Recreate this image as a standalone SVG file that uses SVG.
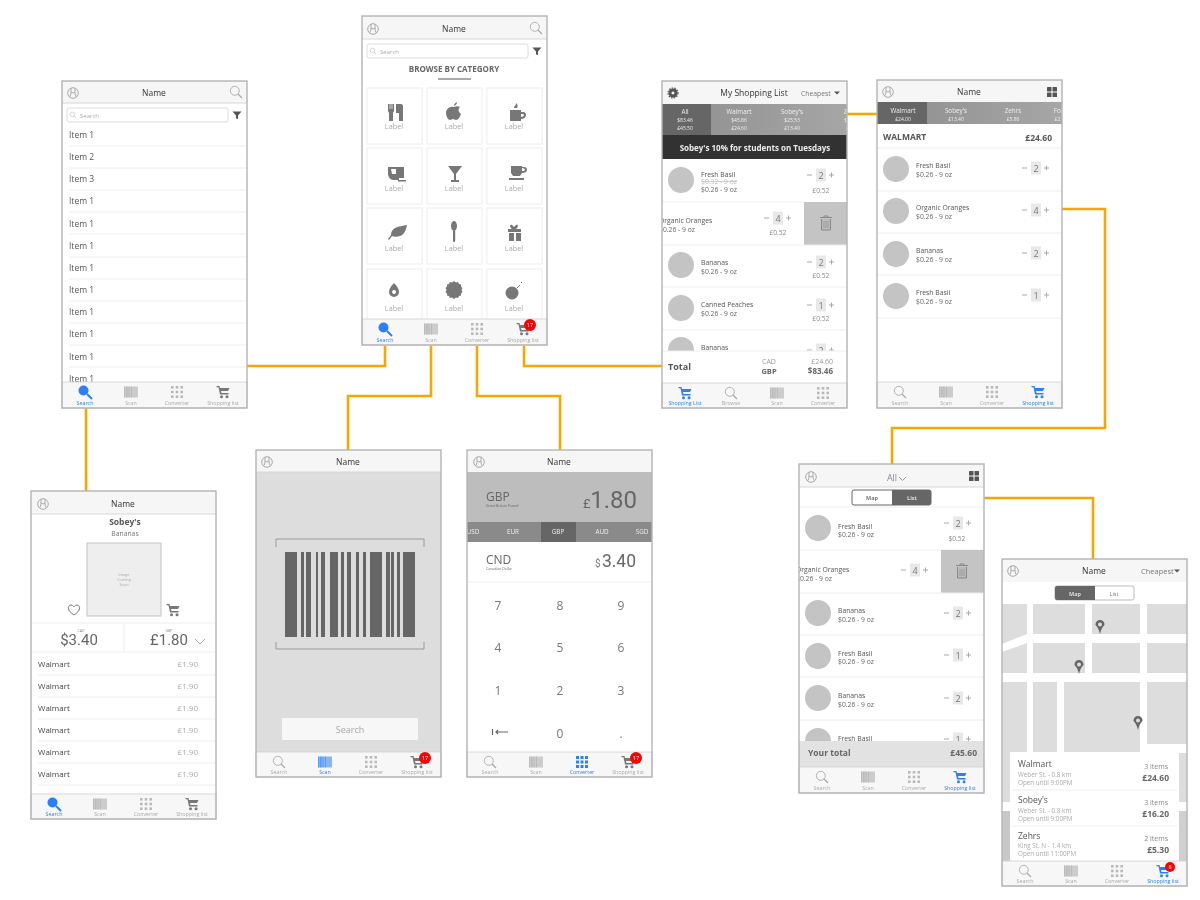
<svg xmlns="http://www.w3.org/2000/svg" width="1200" height="900" viewBox="0 0 1200 900">
<style>
text{font-family:"Open Sans","Liberation Sans",sans-serif;fill:#555}
.frame{fill:none;stroke:#b4b4b4;stroke-width:1.4}
.bg{fill:#fff}
.hd{fill:#f6f6f6}
.hl{stroke:#d8d8d8;stroke-width:1}
.sep{stroke:#eee;stroke-width:1}
.tab{fill:#f7f7f7;stroke:#d0d0d0;stroke-width:.8}
.ttl{font-size:8.500px;text-anchor:middle;fill:#333}
.tl{font-size:5.300px;text-anchor:middle;fill:#aaa}
.on{font-size:5.300px;text-anchor:middle;fill:#2a7fff}
.ic{color:#aaa}
.icb{color:#2a7fff}
.icd{color:#777}
.bd{fill:#f00}
.bt{font-size:5.500px;text-anchor:middle;fill:#fff}
.sb{fill:#fff;stroke:#ddd;stroke-width:1}
.st{font-size:6px;fill:#aaa}
.it{font-size:8.500px;fill:#555}
.cell{fill:#fff;stroke:#eee;stroke-width:1}
.lab{font-size:7.300px;text-anchor:middle;fill:#aaa}
.c{fill:#c4c4c4}
.nm{font-size:6.800px;fill:#555}
.pr{font-size:6.800px;fill:#666}
.qn{font-size:9px;text-anchor:middle;fill:#777}
.pc{font-size:6.600px;text-anchor:middle;fill:#888}
.stripw{font-size:6.300px;text-anchor:middle;fill:#eee}
.strips{font-size:5px;text-anchor:middle;fill:#eee}
.b{font-weight:700}
.r{text-anchor:end}
.m{text-anchor:middle}
.conn{fill:none;stroke:#f5a800;stroke-width:2.600}
.blk{fill:#ddd}
.bar{fill:#666}
.pad{font-size:12px;text-anchor:middle;fill:#777}
.wl{font-size:8px;fill:#444}
.wp{font-size:8px;fill:#aaa;text-anchor:end}
</style>
<defs>
<filter id="soft" filterUnits="userSpaceOnUse" x="0" y="0" width="1200" height="900"><feGaussianBlur stdDeviation="0.45"/></filter>
<clipPath id="cp"><rect width="185" height="329"/></clipPath>
<linearGradient id="strip" x1="0" x2="1" y1="0" y2="0"><stop offset="0" stop-color="#8e8e8e"/><stop offset="1" stop-color="#a6a6a6"/></linearGradient>
<g id="i-user" fill="none" stroke="#aaa" stroke-width="1"><circle r="5.300"/><path d="M-2 -5V0Q-2 2-3.500 4M2 -5V0Q2 2 3.500 4M-2-1Q0 1 2-1"/></g>
<g id="i-mag" fill="none" stroke="currentColor" stroke-width=".9"><circle cx="-1.200" cy="-1.200" r="4.500"/><path d="M2 2L6 6" stroke-width="1.200"/></g>
<g id="i-magon"><circle cx="-1.500" cy="-1.500" r="5" fill="#2a7fff"/><path d="M2 2L7 7" stroke="#2a7fff" stroke-width="2"/></g>
<g id="i-scan" fill="currentColor"><rect x="-7" y="-5.500" width="14" height="11" opacity=".55"/><path d="M-7-5.500h1v11h-1zM-5-5.500h1.500v11h-1.500zM-2.500-5.500h1v11h-1zM0-5.500h1v11h-1z" opacity=".5"/></g>
<g id="i-grid" fill="currentColor" opacity=".8"><rect x="-6" y="-6" width="2.600" height="2.600"/><rect x="-1.300" y="-6" width="2.600" height="2.600"/><rect x="3.400" y="-6" width="2.600" height="2.600"/><rect x="-6" y="-1.300" width="2.600" height="2.600"/><rect x="-1.300" y="-1.300" width="2.600" height="2.600"/><rect x="3.400" y="-1.300" width="2.600" height="2.600"/><rect x="-6" y="3.400" width="2.600" height="2.600"/><rect x="-1.300" y="3.400" width="2.600" height="2.600"/><rect x="3.400" y="3.400" width="2.600" height="2.600"/></g>
<g id="i-gridb" fill="#2a7fff"><rect x="-6" y="-6" width="3" height="3"/><rect x="-1.500" y="-6" width="3" height="3"/><rect x="3" y="-6" width="3" height="3"/><rect x="-6" y="-1.500" width="3" height="3"/><rect x="-1.500" y="-1.500" width="3" height="3"/><rect x="3" y="-1.500" width="3" height="3"/><rect x="-6" y="3" width="3" height="3"/><rect x="-1.500" y="3" width="3" height="3"/><rect x="3" y="3" width="3" height="3"/></g>
<g id="i-cart" fill="currentColor"><path d="M-6.500-6H-3.500L-3-4H6.500L5-1H-2L-1.500 1H5.500V2.500H-3L-4.500-4.700H-6.500Z"/><circle cx="-1.500" cy="4.700" r="1.500"/><circle cx="4" cy="4.700" r="1.500"/></g>
<g id="i-filter"><path d="M-4.500-3.500H4.500L1 .5V4L-1 3.500V.5Z" fill="#555"/></g>
<g id="i-apps" fill="#555"><rect x="-5" y="-5" width="4.500" height="4.500" rx=".6"/><rect x=".5" y="-5" width="4.500" height="4.500" rx=".6"/><rect x="-5" y=".5" width="4.500" height="4.500" rx=".6"/><rect x=".5" y=".5" width="4.500" height="4.500" rx=".6"/></g>
<g id="i-tri"><path d="M-3-1.500H3L0 1.500Z" fill="#555"/></g>
<g id="q"><path d="M-14 0H-9M8 0H13M10.500-2.500V2.500" stroke="#aaa" stroke-width="1"/><rect x="-5" y="-6.500" width="10" height="13" fill="#e8e8e8"/></g>
<g id="i-trash" fill="none" stroke="#888" stroke-width="1"><path d="M-6-5.500H6M-2-5.500V-7H2V-5.500"/><path d="M-4.500-4V7H4.500V-4" fill="#bbb"/><path d="M-2-2V5M0-2V5M2-2V5" stroke-width=".6"/></g>
<g id="i-pin"><path d="M0 7C-2-1-4.500-1-4.500-2.500A4.500 4.500 0 1 1 4.500-2.500C4.500-1 2-1 0 7Z" fill="#666"/><circle cy="-2.500" r="2" fill="#ddd"/></g>
</defs>
<rect width="1200" height="900" fill="#fff"/>
<g filter="url(#soft)">

<g id="connectors">
<path class="conn" d="M247 366H385V346"/>
<path class="conn" d="M431 346V396H348V450"/>
<path class="conn" d="M477 346V396H560V450"/>
<path class="conn" d="M524 346V366H662"/>
<path class="conn" d="M86 408V491"/>
<path class="conn" d="M847 114H877"/>
<path class="conn" d="M1062 209H1105V428H892V464"/>
<path class="conn" d="M984 498H1093V559"/>
</g>

<g id="screen-item-list" transform="translate(62,81)">
<rect class="bg" width="185" height="327"/>
<rect class="hd" width="185" height="22"/><path class="hl" d="M0 22H185"/>
<use href="#i-user" x="11" y="12"/><use href="#i-mag" class="ic" x="174" y="11"/>
<text class="ttl" x="92" y="15">Name</text>
<rect class="sb" x="5" y="27" width="161" height="14" rx="2"/>
<use href="#i-mag" class="ic" transform="translate(11,34) scale(.5)"/><text class="st" x="18" y="36.500">Search</text>
<use href="#i-filter" x="175" y="34"/>
<text class="it" x="7" y="57">Item 1</text><path class="sep" d="M7 65H185"/>
<text class="it" x="7" y="79">Item 2</text><path class="sep" d="M7 87H185"/>
<text class="it" x="7" y="101">Item 3</text><path class="sep" d="M7 109H185"/>
<text class="it" x="7" y="123">Item 1</text><path class="sep" d="M7 131H185"/>
<text class="it" x="7" y="146">Item 1</text><path class="sep" d="M7 153H185"/>
<text class="it" x="7" y="168">Item 1</text><path class="sep" d="M7 176H185"/>
<text class="it" x="7" y="190">Item 1</text><path class="sep" d="M7 198H185"/>
<text class="it" x="7" y="212">Item 1</text><path class="sep" d="M7 220H185"/>
<text class="it" x="7" y="234">Item 1</text><path class="sep" d="M7 242H185"/>
<text class="it" x="7" y="256">Item 1</text><path class="sep" d="M7 264H185"/>
<text class="it" x="7" y="279">Item 1</text><path class="sep" d="M7 286H185"/>
<text class="it" x="7" y="301">Item 1</text>
<rect class="tab" y="301" width="185" height="26"/>
<use href="#i-magon" x="23" y="311"/><text class="on" x="23" y="324">Search</text>
<use href="#i-scan" class="ic" x="69" y="311"/><text class="tl" x="69" y="324">Scan</text>
<use href="#i-grid" class="ic" x="115" y="311"/><text class="tl" x="115" y="324">Converter</text>
<use href="#i-cart" class="icd" x="161" y="311"/><text class="tl" x="161" y="324">Shopping list</text>
<rect class="frame" width="185" height="327"/>
</g>

<g id="screen-browse-category" transform="translate(362,16)">
<rect class="bg" width="185" height="329"/>
<rect class="hd" width="185" height="23"/><path class="hl" d="M0 23H185"/>
<use href="#i-user" x="11" y="13"/><use href="#i-mag" class="ic" x="174" y="12"/>
<text class="ttl" x="92" y="16">Name</text>
<rect class="sb" x="5" y="28" width="161" height="14" rx="2"/>
<use href="#i-mag" class="ic" transform="translate(11,35) scale(.5)"/><text class="st" x="18" y="37.500">Search</text>
<use href="#i-filter" x="175" y="35"/>
<text class="m b" x="92" y="56" font-size="8" style="fill:#666">BROWSE BY CATEGORY</text>
<rect x="76" y="62" width="33" height="2" fill="#aaa"/>
<rect class="cell" x="5" y="72" width="55" height="56"/><rect class="cell" x="65" y="72" width="55" height="56"/><rect class="cell" x="125" y="72" width="55" height="56"/>
<rect class="cell" x="5" y="132" width="55" height="56"/><rect class="cell" x="65" y="132" width="55" height="56"/><rect class="cell" x="125" y="132" width="55" height="56"/>
<rect class="cell" x="5" y="192" width="55" height="56"/><rect class="cell" x="65" y="192" width="55" height="56"/><rect class="cell" x="125" y="192" width="55" height="56"/>
<rect class="cell" x="5" y="253" width="55" height="56"/><rect class="cell" x="65" y="253" width="55" height="56"/><rect class="cell" x="125" y="253" width="55" height="56"/>
<g fill="#777">
<path d="M26 88h6v7l-1 2v8h-4v-8l-1-2zM34 88h5c1 0 2 1 2 2v15h-4v-8h-3z"/><path d="M28 88v5M30 88v5" stroke="#fff" stroke-width=".7"/>
<path d="M92 91c2-1 4-1 6 0-2 2-2 5 1 7-1 3-3 6-5 6-1 0-2-1-3-1s-2 1-3 1c-2 0-4-4-4-7 0-4 4-7 8-6zM92 90c0-2 1-3 3-4 0 2-1 3-3 4z"/>
<path d="M148 94h11v2h2c2 0 3 1 3 3s-2 4-5 4v2h-11zM159 98v3c1 0 3-1 3-2s-1-1-3-1zM152 92c0-2 2-2 2-5 2 2 2 3 1 5z"/>
<path d="M26 151h16v11h-5v2h-6c-3 0-5-4-5-6zM29 153l1 5h4v-5z" fill-rule="evenodd"/><rect x="36" y="164" width="8" height="1.500"/>
<path d="M86 150h14l-6 8v6h3v2h-8v-2h3v-6z"/>
<path d="M149 150h11v1h2c2 0 3 1 3 3s-2 3-5 3l-2 3h-7l-2-3zM160 152v3c1 0 3 0 3-1s-1-2-3-2z" fill-rule="evenodd"/><rect x="147" y="162" width="15" height="2"/>
<path d="M33 212c4-2 8-2 12-3-1 5-3 10-7 11-3 1-6 1-8 0l-3 4-1-1 3-4c0-3 1-5 4-7z"/>
<ellipse cx="92" cy="210" rx="3" ry="5"/><rect x="91" y="214" width="2.200" height="12" rx="1"/>
<path d="M146 213h4c-3-2-2-5 0-4l2 2 2-2c2-1 3 2 0 4h5v3h-13zM147 217h5v8h-5zM154 217h5v8h-5z"/>
<g transform="translate(0,-13)">
<path d="M32 280c3 3 5 6 5 9a5 5 0 0 1-10 0c0-3 2-6 5-9zM32 287a2 2 0 1 0 .1 0z" fill-rule="evenodd"/>
<path d="M92 278l2 1.500 2-.5 1 2 2 .5v2l1.500 1.500-1 2 1 2-1.500 1.500v2l-2 .5-1 2-2-.5-2 1.500-2-1.500-2 .5-1-2-2-.5v-2l-1.500-1.500 1-2-1-2 1.500-1.500v-2l2-.5 1-2 2 .5z"/>
<circle cx="150" cy="290" r="6.500"/><path d="M155 285l3-3M159 280l1-1" stroke="#777"/>
</g>
</g>
<text class="lab" x="32" y="113">Label</text><text class="lab" x="92" y="113">Label</text><text class="lab" x="152" y="113">Label</text>
<text class="lab" x="32" y="175">Label</text><text class="lab" x="92" y="175">Label</text><text class="lab" x="152" y="175">Label</text>
<text class="lab" x="32" y="235">Label</text><text class="lab" x="92" y="235">Label</text><text class="lab" x="152" y="235">Label</text>
<text class="lab" x="32" y="295">Label</text><text class="lab" x="92" y="295">Label</text><text class="lab" x="152" y="295">Label</text>
<rect class="tab" y="303" width="185" height="26"/>
<use href="#i-magon" x="23" y="313"/><text class="on" x="23" y="326">Search</text>
<use href="#i-scan" class="ic" x="69" y="313"/><text class="tl" x="69" y="326">Scan</text>
<use href="#i-grid" class="ic" x="115" y="313"/><text class="tl" x="115" y="326">Converter</text>
<use href="#i-cart" class="icd" x="161" y="313"/><text class="tl" x="161" y="326">Shopping list</text>
<circle class="bd" cx="168" cy="309" r="6"/><text class="bt" x="168" y="311">17</text>
<rect class="frame" width="185" height="329"/>
</g>

<g id="screen-shopping-list" transform="translate(662,81)">
<rect class="bg" width="185" height="327"/>
<g clip-path="url(#cp)">
<rect class="hd" width="185" height="23"/>
<path d="M11 7.500a4.500 4.500 0 1 0 .1 0zM11 10.500a1.500 1.500 0 1 1-.1 0z" fill="#555" fill-rule="evenodd"/><circle cx="11" cy="12" r="5" fill="none" stroke="#555" stroke-width="1.200" stroke-dasharray="1.500 1.200"/>
<text class="ttl" x="92" y="15">My Shopping List</text>
<text x="139" y="15" font-size="6.800" style="fill:#777">Cheapest</text><use href="#i-tri" x="175" y="12"/>
<rect y="23" width="185" height="31" fill="url(#strip)"/><rect y="23" width="49" height="31" fill="#666"/>
<text class="stripw" x="23" y="33">All</text><text class="strips" x="23" y="41">$83.46</text><text class="strips" x="23" y="49">£45.50</text>
<text class="stripw" x="77" y="33">Walmart</text><text class="strips" x="77" y="41">$45.86</text><text class="strips" x="77" y="49">£24.60</text>
<text class="stripw" x="130" y="33">Sobey's</text><text class="strips" x="130" y="41">$25.53</text><text class="strips" x="130" y="49">£13.40</text>
<text class="stripw" x="190" y="33">Zehrs</text><text class="strips" x="190" y="41">$12.07</text><text class="strips" x="190" y="49">£5.30</text>
<rect y="54" width="185" height="24" fill="#333"/>
<text class="m b" x="93" y="70" font-size="8" style="fill:#eee">Sobey's 10% for students on Tuesdays</text>

<circle class="c" cx="19" cy="99" r="13"/>
<text class="nm" x="39" y="96">Fresh Basil</text>
<text class="pr" x="39" y="103" style="fill:#bbb" text-decoration="line-through">$0.32 - 9 oz</text>
<text class="pr" x="39" y="111">$0.26 - 9 oz</text>
<g transform="translate(159,94)"><use href="#q"/><text class="qn" y="3.500">2</text></g>
<text class="pc" x="159" y="112">£0.52</text>
<path class="sep" d="M0 121H142"/>

<text class="nm" x="-3" y="142">Organic Oranges</text>
<text class="pr" x="-3" y="151">$0.26 - 9 oz</text>
<g transform="translate(116,137)"><use href="#q"/><text class="qn" y="3.500">4</text></g>
<text class="pc" x="116" y="154">£0.52</text>
<rect x="142" y="121" width="43" height="43" fill="#c4c4c4"/><use href="#i-trash" x="164" y="142"/>
<path class="sep" d="M0 164H185"/>

<circle class="c" cx="19" cy="184" r="13"/>
<text class="nm" x="39" y="184">Bananas</text><text class="pr" x="39" y="193">$0.26 - 9 oz</text>
<g transform="translate(159,181)"><use href="#q"/><text class="qn" y="3.500">2</text></g>
<text class="pc" x="159" y="197">£0.52</text>
<path class="sep" d="M0 206H185"/>

<circle class="c" cx="19" cy="227" r="13"/>
<text class="nm" x="39" y="226">Canned Peaches</text><text class="pr" x="39" y="235">$0.26 - 9 oz</text>
<g transform="translate(159,224)"><use href="#q"/><text class="qn" y="3.500">1</text></g>
<text class="pc" x="159" y="240">£0.52</text>
<path class="sep" d="M0 249H185"/>

<circle class="c" cx="19" cy="269" r="13"/>
<text class="nm" x="39" y="269">Bananas</text>
<g transform="translate(159,269)"><use href="#q"/><text class="qn" y="3.500">2</text></g>

<rect y="270" width="185" height="32" fill="#fff"/><path class="sep" d="M0 270H185"/>
<text class="b" x="6" y="289" font-size="9" style="fill:#555">Total</text>
<text class="m" x="107" y="283" font-size="7" style="fill:#999">CAD</text>
<text class="m b" x="107" y="293" font-size="7.500" style="fill:#666">GBP</text>
<text class="r" x="171" y="283" font-size="7" style="fill:#999">£24.60</text>
<text class="r b" x="171" y="293" font-size="8" style="fill:#666">$83.46</text>
</g>
<rect class="tab" y="302" width="185" height="25"/>
<use href="#i-cart" class="icb" x="23" y="312"/><text class="on" x="23" y="324">Shopping List</text>
<use href="#i-mag" class="ic" x="69" y="312"/><text class="tl" x="69" y="324">Browse</text>
<use href="#i-scan" class="ic" x="115" y="312"/><text class="tl" x="115" y="324">Scan</text>
<use href="#i-grid" class="ic" x="161" y="312"/><text class="tl" x="161" y="324">Converter</text>
<rect class="frame" width="185" height="327"/>
</g>

<g id="screen-store-list" transform="translate(877,80)">
<rect class="bg" width="185" height="328"/>
<g clip-path="url(#cp)">
<rect class="hd" width="185" height="22"/>
<use href="#i-user" x="11" y="12"/><use href="#i-apps" x="175" y="12"/>
<text class="ttl" x="92" y="15">Name</text>
<rect y="22" width="185" height="22" fill="url(#strip)"/><rect y="22" width="50" height="22" fill="#666"/>
<text class="stripw" x="26" y="33">Walmart</text><text class="strips" x="26" y="41">£24.00</text>
<text class="stripw" x="79" y="33">Sobey's</text><text class="strips" x="79" y="41">£13.40</text>
<text class="stripw" x="136" y="33">Zehrs</text><text class="strips" x="136" y="41">£5.80</text>
<text class="stripw" x="184" y="33">Food</text><text class="strips" x="184" y="41">£2.10</text>
<text class="b" x="6" y="60" font-size="8.500" style="fill:#555">WALMART</text>
<text class="r b" x="175" y="61" font-size="8.500" style="fill:#555">£24.60</text>
<path class="sep" d="M0 68H185"/>
<circle class="c" cx="19" cy="89" r="13"/><text class="nm" x="39" y="88">Fresh Basil</text><text class="pr" x="39" y="97">$0.26 - 9 oz</text>
<g transform="translate(159,88)"><use href="#q"/><text class="qn" y="3.500">2</text></g><path class="sep" d="M0 111H185"/>
<circle class="c" cx="19" cy="131" r="13"/><text class="nm" x="39" y="130">Organic Oranges</text><text class="pr" x="39" y="139">$0.26 - 9 oz</text>
<g transform="translate(159,130)"><use href="#q"/><text class="qn" y="3.500">4</text></g><path class="sep" d="M0 153H185"/>
<circle class="c" cx="19" cy="174" r="13"/><text class="nm" x="39" y="173">Bananas</text><text class="pr" x="39" y="182">$0.26 - 9 oz</text>
<g transform="translate(159,173)"><use href="#q"/><text class="qn" y="3.500">2</text></g><path class="sep" d="M0 195H185"/>
<circle class="c" cx="19" cy="216" r="13"/><text class="nm" x="39" y="215">Fresh Basil</text><text class="pr" x="39" y="224">$0.26 - 9 oz</text>
<g transform="translate(159,215)"><use href="#q"/><text class="qn" y="3.500">1</text></g><path class="sep" d="M0 238H185"/>
</g>
<rect class="tab" y="302" width="185" height="26"/>
<use href="#i-mag" class="ic" x="23" y="312"/><text class="tl" x="23" y="325">Search</text>
<use href="#i-scan" class="ic" x="69" y="312"/><text class="tl" x="69" y="325">Scan</text>
<use href="#i-grid" class="ic" x="115" y="312"/><text class="tl" x="115" y="325">Converter</text>
<use href="#i-cart" class="icb" x="161" y="312"/><text class="on" x="161" y="325">Shopping list</text>
<rect class="frame" width="185" height="328"/>
</g>

<g id="screen-product" transform="translate(31,491)">
<rect class="bg" width="185" height="328"/>
<rect class="hd" width="185" height="23"/><path class="hl" d="M0 23H185"/>
<use href="#i-user" x="12" y="13"/>
<text class="ttl" x="92" y="15.500">Name</text>
<text class="m b" x="94" y="34" font-size="8.500" style="fill:#555">Sobey's</text>
<text class="m" x="94" y="45" font-size="6.800" style="fill:#777">Bananas</text>
<rect x="56" y="52" width="74" height="73" fill="#eee" stroke="#c4c4c4"/>
<text class="m" x="93" y="85" font-size="3.800" style="fill:#aaa">Image</text><text class="m" x="93" y="90" font-size="3.800" style="fill:#aaa">Coming</text><text class="m" x="93" y="95" font-size="3.800" style="fill:#aaa">Soon</text>
<path d="M43 124c-8-5-6-10-3-10 2 0 3 2 3 2s1-2 3-2c3 0 5 5-3 10z" fill="none" stroke="#777"/>
<use href="#i-cart" class="icd" x="142" y="119"/>
<path class="sep" d="M0 132H185M0 161H185M93 132V161"/>
<text class="m" x="50" y="141" font-size="3.500" style="fill:#888">CAD</text>
<text class="m" x="48" y="154" font-size="15" style="font-family:Roboto,sans-serif;fill:#666">$3.40</text>
<text class="m" x="138" y="141" font-size="3.500" style="fill:#888">GBP</text>
<text class="m" x="138" y="154" font-size="15" style="font-family:Roboto,sans-serif;fill:#666">£1.80</text>
<path d="M164 148L169 153L174 148" fill="none" stroke="#aaa"/>
<text class="wl" x="7" y="176">Walmart</text><text class="wp" x="167" y="176">£1.90</text><path class="sep" d="M7 184H185"/>
<text class="wl" x="7" y="198">Walmart</text><text class="wp" x="167" y="198">£1.90</text><path class="sep" d="M7 206H185"/>
<text class="wl" x="7" y="220">Walmart</text><text class="wp" x="167" y="220">£1.90</text><path class="sep" d="M7 228H185"/>
<text class="wl" x="7" y="242">Walmart</text><text class="wp" x="167" y="242">£1.90</text><path class="sep" d="M7 250H185"/>
<text class="wl" x="7" y="264">Walmart</text><text class="wp" x="167" y="264">£1.90</text><path class="sep" d="M7 272H185"/>
<text class="wl" x="7" y="286">Walmart</text><text class="wp" x="167" y="286">£1.90</text><path class="sep" d="M7 294H185"/>
<rect class="tab" y="303" width="185" height="25"/>
<use href="#i-magon" x="23" y="313"/><text class="on" x="23" y="325">Search</text>
<use href="#i-scan" class="ic" x="69" y="313"/><text class="tl" x="69" y="325">Scan</text>
<use href="#i-grid" class="ic" x="115" y="313"/><text class="tl" x="115" y="325">Converter</text>
<use href="#i-cart" class="icd" x="161" y="313"/><text class="tl" x="161" y="325">Shopping list</text>
<rect class="frame" width="185" height="328"/>
</g>

<g id="screen-scan" transform="translate(256,450)">
<rect class="bg" width="185" height="327"/>
<rect y="22" width="185" height="280" fill="#ddd"/>
<rect class="hd" width="185" height="22"/><path class="hl" d="M0 22H185"/>
<use href="#i-user" x="11" y="12"/>
<text class="ttl" x="92" y="15">Name</text>
<path d="M20 97V89H168V97M20 192V199H168V192" fill="none" stroke="#999" stroke-width="1"/>
<g class="bar"><rect x="29" y="102" width="12" height="85"/><rect x="45" y="102" width="3" height="85"/><rect x="50" y="102" width="5" height="85"/><rect x="60" y="102" width="2" height="85"/><rect x="65" y="102" width="4" height="85"/><rect x="74" y="102" width="8" height="85"/><rect x="85" y="102" width="3" height="85"/><rect x="91" y="102" width="4" height="85"/><rect x="100" y="102" width="3" height="85"/><rect x="107" y="102" width="3" height="85"/><rect x="114" y="102" width="12" height="85"/><rect x="130" y="102" width="4" height="85"/><rect x="135" y="102" width="3" height="85"/><rect x="141" y="102" width="3" height="85"/><rect x="147" y="102" width="12" height="85"/></g>
<rect x="26" y="268" width="136" height="22" rx="1" fill="#f7f7f7"/>
<text class="m" x="94" y="283" font-size="9" style="fill:#aaa">Search</text>
<rect class="tab" y="302" width="185" height="25"/>
<use href="#i-mag" class="ic" x="23" y="312"/><text class="tl" x="23" y="324">Search</text>
<use href="#i-scan" class="icb" x="69" y="312"/><text class="on" x="69" y="324">Scan</text>
<use href="#i-grid" class="ic" x="115" y="312"/><text class="tl" x="115" y="324">Converter</text>
<use href="#i-cart" class="icd" x="161" y="312"/><text class="tl" x="161" y="324">Shopping list</text>
<circle class="bd" cx="169" cy="308" r="6"/><text class="bt" x="169" y="310">17</text>
<rect class="frame" width="185" height="327"/>
</g>

<g id="screen-converter" transform="translate(467,450)">
<rect class="bg" width="185" height="327"/>
<g clip-path="url(#cp)">
<rect class="hd" width="185" height="22"/>
<use href="#i-user" x="12" y="12"/>
<text class="ttl" x="92" y="15">Name</text>
<rect y="22" width="185" height="50" fill="#bdbdbd"/>
<text x="19" y="51" font-size="12" style="fill:#666">GBP</text>
<text x="19" y="57" font-size="3.500" style="fill:#666">Great Britain Pound</text>
<text x="116" y="58" font-size="13" style="font-family:Roboto,sans-serif;fill:#666">£</text>
<text class="r" x="170" y="58" font-size="24" style="font-family:Roboto,sans-serif;fill:#666">1.80</text>
<rect y="72" width="185" height="20" fill="#8a8a8a"/><rect x="74" y="72" width="35" height="20" fill="#666"/>
<text class="stripw" x="6" y="84">USD</text><text class="stripw" x="46" y="84">EUR</text><text class="stripw" x="91" y="84">GBP</text><text class="stripw" x="135" y="84">AUD</text><text class="stripw" x="175" y="84">SGD</text>
<text x="19" y="114" font-size="12" style="fill:#666">CND</text>
<text x="19" y="120" font-size="3.500" style="fill:#666">Canadian Dollar</text>
<text x="128" y="117" font-size="10" style="font-family:Roboto,sans-serif;fill:#777">$</text>
<text class="r" x="169" y="117" font-size="17.500" style="font-family:Roboto,sans-serif;fill:#666">3.40</text>
<path class="sep" d="M0 132H185"/>
<text class="pad" x="31" y="160">7</text><text class="pad" x="93" y="160">8</text><text class="pad" x="154" y="160">9</text>
<text class="pad" x="31" y="202">4</text><text class="pad" x="93" y="202">5</text><text class="pad" x="154" y="202">6</text>
<text class="pad" x="31" y="245">1</text><text class="pad" x="93" y="245">2</text><text class="pad" x="154" y="245">3</text>
<path d="M25.500 279V285M41 282H29M31 280L29 282L31 284" fill="none" stroke="#666" stroke-width="1.200"/>
<text class="pad" x="93" y="288">0</text><text class="pad" x="154" y="288">.</text>
</g>
<rect class="tab" y="302" width="185" height="25"/>
<use href="#i-mag" class="ic" x="23" y="312"/><text class="tl" x="23" y="324">Search</text>
<use href="#i-scan" class="ic" x="69" y="312"/><text class="tl" x="69" y="324">Scan</text>
<use href="#i-gridb" x="115" y="312"/><text class="on" x="115" y="324">Converter</text>
<use href="#i-cart" class="icd" x="161" y="312"/><text class="tl" x="161" y="324">Shopping list</text>
<circle class="bd" cx="169" cy="308" r="6"/><text class="bt" x="169" y="310">17</text>
<rect class="frame" width="185" height="327"/>
</g>

<g id="screen-all-list" transform="translate(799,464)">
<rect class="bg" width="185" height="329"/>
<g clip-path="url(#cp)">
<rect class="hd" width="185" height="23"/><path class="hl" d="M0 23H185"/>
<use href="#i-user" x="12" y="13"/><use href="#i-apps" x="175" y="12"/>
<text class="m" x="93" y="17" font-size="9" style="fill:#888">All</text>
<path d="M100 13L103.500 16.500L107 13" fill="none" stroke="#999"/>
<rect x="53" y="26" width="79" height="15" rx="2" fill="#fff" stroke="#666"/>
<path d="M93 26H130a2 2 0 0 1 2 2V39a2 2 0 0 1-2 2H93Z" fill="#666"/>
<text class="m b" x="73" y="36" font-size="5.500" style="fill:#777">Map</text><text class="m b" x="113" y="36" font-size="5.500" style="fill:#ddd">List</text>
<path class="sep" d="M0 43H185"/>
<circle class="c" cx="19" cy="64" r="13"/><text class="nm" x="39" y="64.500">Fresh Basil</text><text class="pr" x="39" y="73">$0.26 - 9 oz</text>
<g transform="translate(159,59)"><use href="#q"/><text class="qn" y="3.500">2</text></g><text class="pc" x="158" y="77">$0.52</text>
<path class="sep" d="M0 86H185"/>
<text class="nm" x="-3" y="108">Organic Oranges</text><text class="pr" x="-3" y="117">$0.26 - 9 oz</text>
<g transform="translate(116,106)"><use href="#q"/><text class="qn" y="3.500">4</text></g>
<rect x="142" y="86" width="43" height="43" fill="#c4c4c4"/><use href="#i-trash" x="163" y="107"/>
<path class="sep" d="M0 129H185"/>
<circle class="c" cx="19" cy="149" r="13"/><text class="nm" x="39" y="149">Bananas</text><text class="pr" x="39" y="158">$0.26 - 9 oz</text>
<g transform="translate(159,149)"><use href="#q"/><text class="qn" y="3.500">2</text></g><path class="sep" d="M0 171H185"/>
<circle class="c" cx="19" cy="192" r="13"/><text class="nm" x="39" y="192">Fresh Basil</text><text class="pr" x="39" y="200">$0.26 - 9 oz</text>
<g transform="translate(159,191)"><use href="#q"/><text class="qn" y="3.500">1</text></g><path class="sep" d="M0 213H185"/>
<circle class="c" cx="19" cy="234" r="13"/><text class="nm" x="39" y="234">Bananas</text><text class="pr" x="39" y="243">$0.26 - 9 oz</text>
<g transform="translate(159,234)"><use href="#q"/><text class="qn" y="3.500">2</text></g><path class="sep" d="M0 256H185"/>
<circle class="c" cx="19" cy="277" r="13"/><text class="nm" x="39" y="277">Fresh Basil</text>
<g transform="translate(159,275)"><use href="#q"/><text class="qn" y="3.500">1</text></g>
<rect y="277" width="185" height="26" fill="#e2e2e2"/>
<text class="b" x="9" y="292" font-size="8.500" style="fill:#666">Your total</text>
<text class="r b" x="178" y="292" font-size="8.500" style="fill:#666">£45.60</text>
</g>
<rect class="tab" y="303" width="185" height="26"/>
<use href="#i-mag" class="ic" x="23" y="313"/><text class="tl" x="23" y="326">Search</text>
<use href="#i-scan" class="ic" x="69" y="313"/><text class="tl" x="69" y="326">Scan</text>
<use href="#i-grid" class="ic" x="115" y="313"/><text class="tl" x="115" y="326">Converter</text>
<use href="#i-cart" class="icb" x="161" y="313"/><text class="on" x="161" y="326">Shopping list</text>
<rect class="frame" width="185" height="329"/>
</g>

<g id="screen-map" transform="translate(1002,559)">
<rect class="bg" width="185" height="327"/>
<g clip-path="url(#cp)">
<rect class="hd" width="185" height="23"/>
<use href="#i-user" x="11" y="12"/>
<text class="ttl" x="92" y="15">Name</text>
<text x="139" y="15" font-size="7.500" style="fill:#777">Cheapest</text><use href="#i-tri" x="175" y="12"/>
<rect x="53" y="27" width="79" height="14" rx="2" fill="#fff" stroke="#bbb"/>
<path d="M93 27H55a2 2 0 0 0-2 2V39a2 2 0 0 0 2 2H93Z" fill="#666"/>
<text class="m b" x="73" y="36.500" font-size="5.500" style="fill:#ddd">Map</text><text class="m" x="112" y="36.500" font-size="5.500" style="fill:#777">List</text>
<g class="blk">
<path d="M0 45H25V75L0 85ZM0 93L25 84V114H0Z"/>
<rect x="31" y="45" width="52" height="30"/><rect x="90" y="45" width="48" height="30"/><rect x="145" y="45" width="40" height="30"/>
<rect x="31" y="84" width="52" height="30"/><rect x="90" y="84" width="48" height="30"/><rect x="145" y="84" width="40" height="30"/>
<rect y="123" width="25" height="120"/><rect x="31" y="123" width="24" height="70"/><rect x="62" y="123" width="76" height="70"/><rect x="145" y="123" width="40" height="62"/>
<rect x="177" y="194" width="8" height="49"/>
</g>
<rect y="252" width="8" height="51" fill="#c8c8c8"/><rect x="177" y="252" width="8" height="51" fill="#d0d0d0"/>
<use href="#i-pin" x="98" y="68"/><use href="#i-pin" x="77" y="108"/><use href="#i-pin" x="136" y="164"/>
<rect x="8" y="193" width="169" height="110" fill="#fff"/>
<text x="16" y="208" font-size="8.500" style="fill:#555">Walmart</text>
<text x="16" y="218" font-size="6.300" style="fill:#aaa">Weber St. - 0.8 km</text><text x="16" y="226" font-size="6.300" style="fill:#aaa">Open until 9:00PM</text>
<text class="r" x="166" y="210" font-size="7" style="fill:#888">3 items</text><text class="r b" x="167" y="222" font-size="8.500" style="fill:#666">£24.60</text>
<path class="sep" d="M10 231H175"/>
<text x="16" y="244" font-size="8.500" style="fill:#555">Sobey's</text>
<text x="16" y="254" font-size="6.300" style="fill:#aaa">Weber St. - 0.8 km</text><text x="16" y="262" font-size="6.300" style="fill:#aaa">Open until 9:00PM</text>
<text class="r" x="166" y="246" font-size="7" style="fill:#888">3 items</text><text class="r b" x="167" y="258" font-size="8.500" style="fill:#666">£16.20</text>
<path class="sep" d="M10 267H175"/>
<text x="16" y="280" font-size="8.500" style="fill:#555">Zehrs</text>
<text x="16" y="289" font-size="6.300" style="fill:#aaa">King St. N - 1.4 km</text><text x="16" y="297" font-size="6.300" style="fill:#aaa">Open until 11:00PM</text>
<text class="r" x="166" y="282" font-size="7" style="fill:#888">2 items</text><text class="r b" x="167" y="294" font-size="8.500" style="fill:#666">£5.30</text>
</g>
<rect class="tab" y="302" width="185" height="25"/>
<use href="#i-mag" class="ic" x="23" y="312"/><text class="tl" x="23" y="324">Search</text>
<use href="#i-scan" class="ic" x="69" y="312"/><text class="tl" x="69" y="324">Scan</text>
<use href="#i-grid" class="ic" x="115" y="312"/><text class="tl" x="115" y="324">Converter</text>
<use href="#i-cart" class="icb" x="161" y="312"/><text class="on" x="161" y="324">Shopping list</text>
<circle class="bd" cx="168" cy="308" r="5"/><text class="bt" x="168" y="310">8</text>
<rect class="frame" width="185" height="327"/>
</g>

</g>
</svg>
